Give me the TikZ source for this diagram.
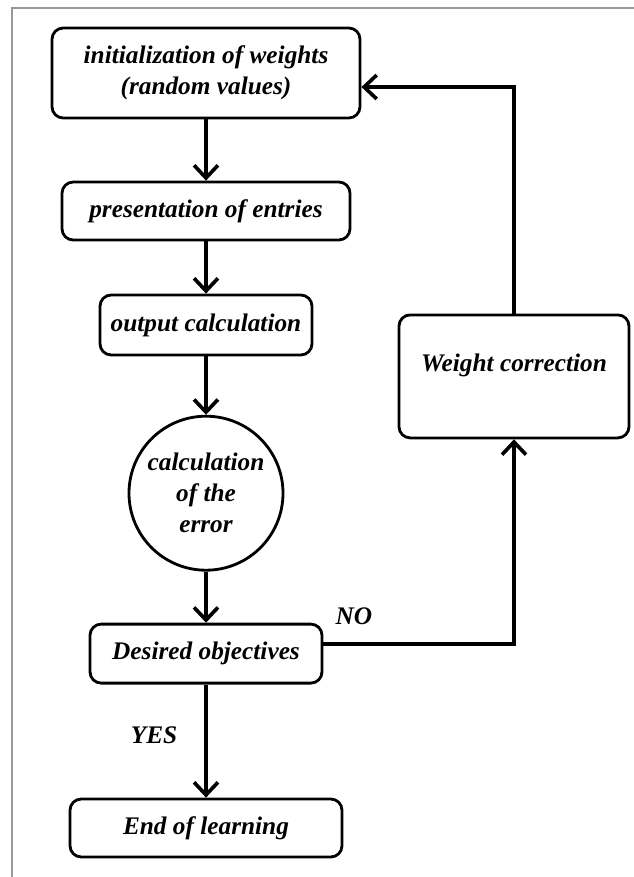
\documentclass[tikz,border=0pt]{standalone}
\usepackage{fontspec}
\setmainfont{Liberation Serif}
\usetikzlibrary{arrows.meta}
\newcommand{\flowfont}{\fontsize{18}{22}\selectfont\bfseries\itshape}

\begin{document}
\begin{tikzpicture}
        % ================= styles =================
        \tikzset{
            % rounded step box
            stepbox/.style={rectangle, rounded corners=0.28cm, draw=black, line width=2pt, fill=white, align=center, inner sep=2pt, font=\flowfont},
            % round error node
            errnode/.style={circle, draw=black, line width=2pt, fill=white, minimum size=3.85cm, inner sep=0pt, align=center, font=\flowfont},
            % thick flow arrows
            flow_edge/.style={line width=3pt, black, -{Straight Barb[length=9pt, width=17pt, line width=2.6pt]}},
            % grey frame of the figure
            frame_line/.style={line width=2pt, black!40},
            answer/.style={font=\flowfont}
        }

        \useasboundingbox (0,0) rectangle (15.85,-21.925);

        % ================= positions =================
        \coordinate (init_p) at (5.15,-1.825);
        \coordinate (pres_p) at (5.15,-5.275);
        \coordinate (out_p)  at (5.15,-8.125);
        \coordinate (err_p)  at (5.15,-12.33);
        \coordinate (des_p)  at (5.15,-16.34);
        \coordinate (end_p)  at (5.15,-20.7);
        \coordinate (corr_p) at (12.85,-9.41);

        % frame (top and left only)
        \coordinate (fr_tr) at (15.85,-0.2);
        \coordinate (fr_tl) at (0.3,-0.2);
        \coordinate (fr_bl) at (0.3,-21.925);
        \draw[frame_line] (fr_tr) -- (fr_tl) -- (fr_bl);

        % ================= nodes =================
        \node[stepbox, minimum width=7.7cm, minimum height=2.25cm] (init) at (init_p) {initialization of weights\\(random values)};
        \node[stepbox, minimum width=7.2cm, minimum height=1.45cm] (pres) at (pres_p) {presentation of entries};
        \node[stepbox, minimum width=5.3cm, minimum height=1.5cm] (out) at (out_p) {output calculation};
        \node[errnode] (err) at (err_p) {calculation\\of the\\error};
        \node[stepbox, minimum width=5.8cm, minimum height=1.475cm] (des) at (des_p) {Desired objectives};
        \node[stepbox, minimum width=6.8cm, minimum height=1.45cm] (end) at (end_p) {End of learning};
        \node[stepbox, minimum width=5.75cm, minimum height=3.075cm, text depth=0.7cm] (corr) at (corr_p) {Weight correction};

        % ================= connectors =================
        \draw[flow_edge] (init) -- (pres);
        \draw[flow_edge] (pres) -- (out);
        \draw[flow_edge] (out) -- (err);
        \draw[flow_edge] (err) -- (des);
        \draw[flow_edge] (des) -- node[answer, pos=0.45, left=0.55cm] {YES} (end);
        \draw[flow_edge] ([yshift=0.25cm]des.east) -| node[answer, pos=0.08, above=0.3cm] {NO} (corr.south);
        \draw[flow_edge] (corr.north) |- ([yshift=-0.35cm]init.east);

    \end{tikzpicture}
\end{document}
